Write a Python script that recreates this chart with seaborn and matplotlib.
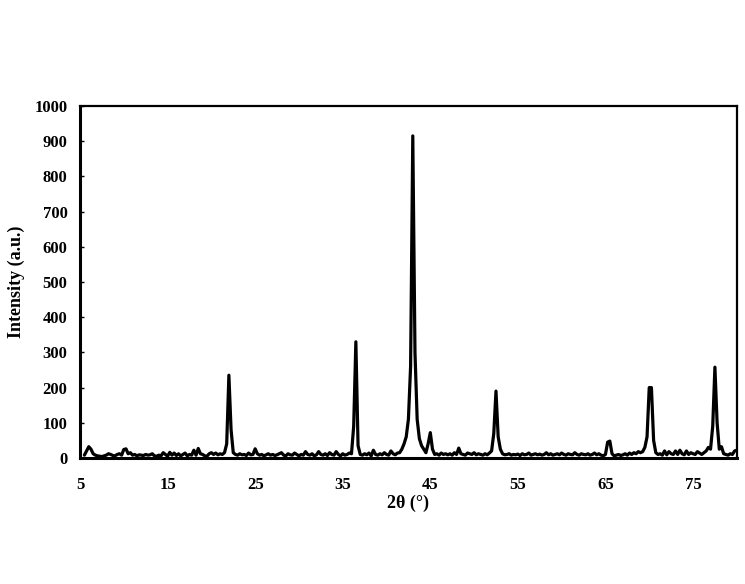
import matplotlib
matplotlib.use("Agg")
import matplotlib.pyplot as plt
import seaborn as sns
import pandas as pd
import numpy as np

# Data: XRD scan, 0.25 degree steps from 5.5 to 80
two_theta = np.arange(5.5, 80.001, 0.25)
intensity = [
    8, 20,                 # 5.5
    32, 25, 12, 8,         # 6
    6, 5, 4, 6,            # 7
    8, 12, 10, 7,          # 8
    6, 10, 12, 8,          # 9
    24, 26, 12, 15,        # 10
    8, 10, 6, 9,           # 11
    8, 7, 10, 8,           # 12
    9, 12, 6, 5,           # 13
    8, 6, 15, 10,          # 14
    5, 16, 8, 14,          # 15
    7, 12, 6, 10,          # 16
    14, 6, 10, 8,          # 17
    22, 8, 27, 12,         # 18
    10, 6, 5, 12,          # 19
    15, 10, 14, 9,         # 20
    12, 10, 15, 40,        # 21
    235, 80, 15, 10,       # 22
    8, 12, 9, 10,          # 23
    7, 14, 9, 10,          # 24
    26, 12, 8, 10,         # 25
    6, 9, 12, 8,           # 26
    10, 7, 9, 12,          # 27
    15, 8, 6, 12,          # 28
    9, 8, 14, 10,          # 29
    6, 10, 8, 18,          # 30
    10, 8, 12, 6,          # 31
    9, 18, 10, 8,          # 32
    12, 7, 15, 10,         # 33
    8, 18, 10, 6,          # 34
    12, 8, 10, 14,         # 35
    12, 90, 330, 35,       # 36
    10, 8, 12, 9,          # 37
    14, 6, 22, 10,         # 38
    8, 12, 9, 15,          # 39
    10, 8, 20, 12,         # 40
    9, 14, 15, 25,         # 41
    40, 60, 110, 260,      # 42
    915, 300, 110, 55,     # 43
    35, 25, 15, 40,        # 44
    72, 25, 10, 12,        # 45
    8, 14, 10, 12,         # 46
    9, 12, 8, 15,          # 47
    10, 28, 12, 10,        # 48
    8, 14, 12, 10,         # 49
    15, 9, 12, 10,         # 50
    8, 12, 9, 14,          # 51
    20, 70, 190, 60,       # 52
    25, 12, 9, 10,         # 53
    12, 8, 10, 9,          # 54
    11, 7, 12, 9,          # 55
    10, 14, 8, 10,         # 56
    12, 9, 11, 8,          # 57
    10, 15, 9, 12,         # 58
    8, 10, 12, 9,          # 59
    14, 10, 8, 12,         # 60
    10, 9, 15, 10,         # 61
    8, 12, 10, 9,          # 62
    12, 8, 10, 14,         # 63
    9, 12, 8, 6,           # 64
    10, 45, 48, 12,        # 65
    6, 8, 10, 7,           # 66
    9, 12, 8, 14,          # 67
    10, 15, 12, 18,        # 68
    15, 18, 30, 60,        # 69
    200, 200, 50, 15,      # 70
    10, 12, 8, 20,         # 71
    9, 18, 12, 10,         # 72
    20, 10, 22, 12,        # 73
    9, 20, 10, 15,         # 74
    12, 10, 18, 14,        # 75
    10, 15, 20, 30,        # 76
    25, 90, 258, 100,      # 77
    25, 32, 12, 10,        # 78
    8, 12, 10, 20,         # 79
    22,                    # 80
]
x_ticks = [5, 15, 25, 35, 45, 55, 65, 75]
y_ticks = list(range(0, 1001, 100))

df = pd.DataFrame({"2theta": two_theta, "Intensity": intensity})

sns.set_theme(style="white")
plt.rcParams['font.family'] = ['Liberation Serif', 'DejaVu Serif']
plt.rcParams['font.weight'] = 'bold'
plt.rcParams['text.color'] = 'black'
plt.rcParams['axes.labelcolor'] = 'black'
plt.rcParams['xtick.color'] = 'black'
plt.rcParams['ytick.color'] = 'black'

fig = plt.figure(figsize=(7.45, 5.84), dpi=100)
ax = fig.add_axes([0.1074, 0.2158, 0.8816, 0.6027])

sns.lineplot(x="2theta", y="Intensity", data=df, color="black", linewidth=2.3, ax=ax)

ax.set_xlim(5, 80)
ax.set_ylim(0, 1000)
ax.set_xticks(x_ticks)
ax.set_yticks(y_ticks)
ax.tick_params(axis='y', direction='in', length=3, width=1, pad=9, labelsize=12, left=True)
ax.tick_params(axis='x', length=0, pad=14, labelsize=12)
for lbl in ax.get_xticklabels() + ax.get_yticklabels():
    lbl.set_fontweight('bold')

ax.set_xlabel("2θ (°)", fontsize=13, fontweight='bold', labelpad=1)
ax.set_ylabel("Intensity (a.u.)", fontsize=13, fontweight='bold', labelpad=7)

for side in ['left', 'bottom']:
    ax.spines[side].set_linewidth(2.2)
for side in ['top', 'right']:
    ax.spines[side].set_linewidth(1.6)
for sp in ax.spines.values():
    sp.set_color('black')

fig.savefig("out.png", dpi=100)
